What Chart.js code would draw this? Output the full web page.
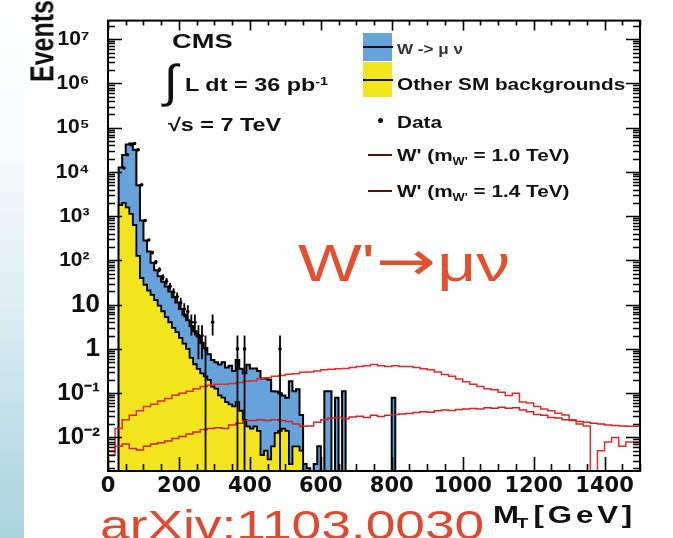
<!DOCTYPE html>
<html>
<head>
<meta charset="utf-8">
<title>W' → μν transverse mass</title>
<script src="https://cdn.jsdelivr.net/npm/chart.js@4.4.1/dist/chart.umd.min.js"></script>
<style>
  html, body { margin: 0; padding: 0; background: #fff; }
  #stage { position: relative; width: 673px; height: 538px; overflow: hidden; background: #fefefe; }
  #edge { position: absolute; left: 0; top: 0; width: 24px; height: 538px;
          background: linear-gradient(to bottom, #ffffff 0%, #f6fafb 28%, #dcedf2 58%, #bcdde6 82%, #a9d3de 100%); }
  #plot { position: absolute; left: 0; top: 0; }
  .t { position: absolute; white-space: nowrap; font-family: "Liberation Sans", Arial, sans-serif;
       font-weight: bold; color: #111; line-height: 1; transform-origin: 0 0; }
  .w13 { transform: scaleX(1.3); }
  .w12 { transform: scaleX(1.22); }
  .box { position: absolute; }
  .bar { position: absolute; height: 2px; background: #111; }
  sub.s { font-size: 62%; vertical-align: -0.35em; }
  sup.s { font-size: 62%; vertical-align: 0.55em; }
  .arrow { font-family: "DejaVu Sans", sans-serif; font-size: 55px; vertical-align: 0.02em; margin: 0 1px; }
</style>
</head>
<body>
<div id="stage">
  <div id="edge"></div>
  <canvas id="plot" width="673" height="538"></canvas>

  <!-- axis titles -->
  <div class="t" style="font-size:25px;left:26px;top:82px;transform:rotate(-90deg) scaleY(1.3);">Events</div>
  <div class="t w13" style="font-size:24px;left:493px;top:503px;">M<sub class="s" style="margin-left:-2px;">T</sub><span style="letter-spacing:3px;margin-left:4px;">[GeV]</span></div>

  <!-- experiment labels -->
  <div class="t w13" style="font-size:21px;left:172px;top:30px;">CMS</div>
  <div class="t" style="font-size:46px;font-weight:normal;left:164px;top:58px;transform:scaleX(1.1);">∫</div>
  <div class="t w13" style="font-size:18px;left:185px;top:76px;">L dt = 36 pb<sup class="s">-1</sup></div>
  <div class="t w13" style="font-size:18px;left:168px;top:116px;">√s = 7 TeV</div>

  <!-- legend -->
  <div class="box" style="left:363px;top:33px;width:29px;height:28px;background:#66a3db;"></div>
  <div class="bar" style="left:363px;top:46px;width:30px;"></div>
  <div class="t w12" style="font-size:14px;left:397px;top:42px;color:#333;">W -&gt; μ ν</div>
  <div class="box" style="left:363px;top:62px;width:29px;height:35px;background:#f3e51d;"></div>
  <div class="bar" style="left:363px;top:79px;width:30px;"></div>
  <div class="t w12" style="font-size:17px;left:397px;top:76px;">Other SM backgrounds</div>
  <div class="box" style="left:378px;top:118px;width:5px;height:5px;border-radius:50%;background:#111;"></div>
  <div class="t w12" style="font-size:17px;left:397px;top:114px;">Data</div>
  <div class="bar" style="left:368px;top:154px;width:24px;background:#4a1414;"></div>
  <div class="t w12" style="font-size:17px;left:397px;top:147px;">W' (m<sub class="s">W'</sub> = 1.0 TeV)</div>
  <div class="bar" style="left:368px;top:190px;width:24px;background:#4a1414;"></div>
  <div class="t w12" style="font-size:17px;left:397px;top:183px;">W' (m<sub class="s">W'</sub> = 1.4 TeV)</div>

  <!-- channel and reference -->
  <div class="t w13" style="font-size:52px;font-weight:normal;color:#e2502f;left:298px;top:234px;">W'<span class="arrow">→</span>μν</div>
  <div class="t w13" style="font-size:41px;font-weight:normal;color:#dc4a31;left:100px;top:505px;">arXiv:1103.0030</div>
</div>

<script>
// ---- binning (GeV) ----
const mcBinWidth = 10;      // background / data histograms
const signalBinWidth = 20;  // W' signal histograms

// ---- expected events per 10 GeV bin, starting at M_T = 0 ----
const otherSM = [0, 0, 0, 0, 1778, 1995, 1585, 1122, 631, 126,
  40, 28.2, 20.9, 16.6, 12.6, 9.5, 7.1, 5.25, 4.0, 3.0,
  2.4, 1.78, 1.32, 1.0, 0.63, 0.45, 0.355, 0.28, 0.24, 0.2,
  0.14, 0.126, 0.089, 0.079, 0.063, 0.056, 0.05, 0.063, 0.04, 0.025,
  0.0178, 0.0158, 0.0178, 0.0141, 0.004, 0.005, 0.0032, 0.0063, 0.0126, 0.0141,
  0.0158, 0.0141, 0.0025, 0.0063, 0.0063, 0.005, 0, 0, 0, 0,
  0, 0, 0, 0, 0, 0, 0, 0, 0, 0,
  0, 0, 0, 0, 0, 0, 0, 0, 0, 0,
  0, 0, 0, 0];

const wMuNu = [0, 0, 0, 0, 10800, 22000, 40100, 42500, 31000, 4890,
  754, 254, 137.6, 72.5, 47.7, 34.2, 26.0, 20.5, 15.95, 11.8,
  8.8, 6.16, 4.71, 3.47, 2.68, 2.06, 1.55, 1.10, 0.81, 0.56,
  0.42, 0.374, 0.358, 0.42, 0.317, 0.36, 0.266, 0.5, 0.315, 0.257,
  0.42, 0.347, 0.345, 0.302, 0.21, 0.209, 0.197, 0.104, 0.097, 0.086,
  0.073, 0.065, 0.184, 0.104, 0.117, 0.027, 0.0025, 0.002, 0, 0.0025,
  0.0063, 0, 0.11, 0.11, 0, 0.079, 0, 0.11, 0, 0,
  0, 0, 0, 0, 0, 0, 0, 0, 0, 0,
  0, 0.079, 0, 0];

// ---- observed events: bin index (10 GeV bins) and count ----
const dataBin = [4, 5, 6, 7, 8, 9, 10, 11, 12, 13, 14, 15, 16, 17, 18, 19, 20,
  21, 22, 23, 24, 25, 26, 27, 29, 36, 38, 48];
const dataCount = [12300, 24500, 41000, 44000, 31500, 5100, 800, 290, 150, 92, 62, 42, 34, 26, 19, 15, 11,
  8, 7, 4, 4, 2, 2, 1, 4, 1, 1, 1];

// ---- W' signal expectations per 20 GeV bin, starting at M_T = 0 ----
const wPrime10 = [0, 0.005, 0.0158, 0.0251, 0.0316, 0.0398, 0.0501, 0.0562, 0.0661, 0.0759,
  0.0891, 0.100, 0.110, 0.126, 0.141, 0.151, 0.158, 0.158, 0.166, 0.174,
  0.186, 0.191, 0.214, 0.224, 0.240, 0.251, 0.269, 0.275, 0.295, 0.302,
  0.316, 0.339, 0.347, 0.355, 0.363, 0.380, 0.398, 0.417, 0.447, 0.417,
  0.398, 0.417, 0.398, 0.398, 0.380, 0.355, 0.339, 0.302, 0.263, 0.240,
  0.209, 0.182, 0.158, 0.141, 0.126, 0.120, 0.105, 0.089, 0.100, 0.063,
  0.060, 0.050, 0.044, 0.040, 0.035, 0.032, 0.025, 0.020, 0.018, 0,
  0.005, 0.0079, 0.010, 0.0063, 0.0079];

const wPrime14 = [0, 0.0040, 0.0063, 0.0071, 0.0056, 0.0052, 0.0063, 0.0071, 0.0076, 0.0083,
  0.0095, 0.0105, 0.0120, 0.0132, 0.0151, 0.0158, 0.0166, 0.0158, 0.0191, 0.0209,
  0.0240, 0.0240, 0.0251, 0.0240, 0.0251, 0.0240, 0.0229, 0.0200, 0.0178, 0.0182,
  0.0219, 0.0251, 0.0275, 0.0282, 0.0263, 0.0288, 0.0302, 0.0282, 0.0316, 0.0295,
  0.0316, 0.0331, 0.0339, 0.0347, 0.0363, 0.0380, 0.0372, 0.0398, 0.0417, 0.0407,
  0.0427, 0.0437, 0.0447, 0.0437, 0.0468, 0.0457, 0.0479, 0.0457, 0.0468, 0.0417,
  0.0380, 0.0331, 0.0316, 0.0282, 0.0275, 0.0251, 0.0240, 0.0229, 0.0219, 0.0209,
  0.0200, 0.0191, 0.0186, 0.0182, 0.0178];

// ---- axes ----
const xRange = [0, 1500];
const yRange = [0.00174, 2.63e7];
const xTickLabels = [0, 200, 400, 600, 800, 1000, 1200, 1400];
const yDecades = [-2, -1, 0, 1, 2, 3, 4, 5, 6, 7];

// value used for empty bins so the outline drops below the frame
const EMPTY = 1e-5;

function histogramPoints(values, width) {
  const pts = values.map((v, i) => ({ x: i * width, y: v > 0 ? v : EMPTY }));
  const last = values[values.length - 1];
  pts.push({ x: values.length * width, y: last > 0 ? last : EMPTY });
  pts.push({ x: values.length * width, y: EMPTY });
  return pts;
}

const stacked = wMuNu.map((w, i) => w + otherSM[i]);

const dataPoints = dataBin.map((b, i) => ({ x: (b + 0.5) * mcBinWidth, y: dataCount[i] }));
const errorSegments = [];
dataBin.forEach((b, i) => {
  const n = dataCount[i], s = Math.sqrt(n), x = (b + 0.5) * mcBinWidth;
  errorSegments.push({ x, y: n - s > 0 ? n - s : EMPTY }, { x, y: n + s }, { x, y: null });
});

const supDigits = { '-': '⁻', '0': '⁰', '1': '¹', '2': '²', '3': '³', '4': '⁴', '5': '⁵', '6': '⁶', '7': '⁷', '8': '⁸', '9': '⁹' };
function decadeLabel(e) {
  if (e === 0) return '1';
  if (e === 1) return '10';
  const label = '10' + String(e).split('').map(c => supDigits[c]).join('');
  return e > 1 ? label + '\u2002' : label;
}
function decadeOf(v) {
  const l = Math.log10(v), r = Math.round(l);
  return Math.abs(l - r) < 1e-6 ? r : null;
}

// inward ticks and frame, drawn in the style of the analysis plots
const frameTicks = {
  id: 'frameTicks',
  afterDatasetsDraw(chart) {
    const { ctx, chartArea: a, scales: { x, y } } = chart;
    ctx.save();
    ctx.strokeStyle = '#000';
    ctx.lineWidth = 1.6;
    ctx.beginPath();
    for (let v = xRange[0]; v <= xRange[1]; v += 50) {
      const px = Math.round(x.getPixelForValue(v)) + 0.5;
      const major = xTickLabels.includes(v);
      ctx.moveTo(px, a.bottom); ctx.lineTo(px, a.bottom - (major ? 14 : 7));
      ctx.moveTo(px, a.top); ctx.lineTo(px, a.top + (major ? 10 : 5));
    }
    for (let e = -3; e <= 7; e++) {
      for (let m = 1; m <= 9; m++) {
        const v = m * Math.pow(10, e);
        if (v < y.min || v > y.max) continue;
        const py = Math.round(y.getPixelForValue(v)) + 0.5;
        const len = m === 1 ? 14 : 7;
        ctx.moveTo(a.left, py); ctx.lineTo(a.left + len, py);
        ctx.moveTo(a.right, py); ctx.lineTo(a.right - len, py);
      }
    }
    ctx.stroke();
    ctx.lineWidth = 2;
    ctx.strokeRect(a.left, a.top, a.right - a.left, a.bottom - a.top);
    ctx.restore();
  }
};

new Chart(document.getElementById('plot'), {
  type: 'line',
  data: {
    datasets: [
      { label: 'Data', data: dataPoints, showLine: false, pointRadius: 1.8,
        pointBackgroundColor: '#000', pointBorderWidth: 0, order: 0 },
      { label: 'Data errors', data: errorSegments, borderColor: '#000', borderWidth: 1.8,
        pointRadius: 0, spanGaps: false, order: 1 },
      { label: "W' (1.0 TeV)", data: histogramPoints(wPrime10, signalBinWidth), stepped: 'after',
        borderColor: '#de2c2c', borderWidth: 1.5, pointRadius: 0, fill: false, order: 2 },
      { label: "W' (1.4 TeV)", data: histogramPoints(wPrime14, signalBinWidth), stepped: 'after',
        borderColor: '#c8262b', borderWidth: 1.5, pointRadius: 0, fill: false, order: 3 },
      { label: 'Other SM backgrounds', data: histogramPoints(otherSM, mcBinWidth), stepped: 'after',
        borderColor: '#000', borderWidth: 1.8, backgroundColor: '#f3e51d', pointRadius: 0,
        fill: 'start', order: 4 },
      { label: 'W -> μν', data: histogramPoints(stacked, mcBinWidth), stepped: 'after',
        borderColor: '#000', borderWidth: 2, backgroundColor: '#66a3db', pointRadius: 0,
        fill: 'start', order: 5 }
    ]
  },
  options: {
    responsive: false,
    animation: false,
    layout: { padding: { top: 13, right: 33, left: 0, bottom: 0 } },
    plugins: { legend: { display: false }, tooltip: { enabled: false } },
    scales: {
      x: {
        type: 'linear', min: xRange[0], max: xRange[1], offset: false,
        grid: { display: false, drawTicks: false }, border: { display: false },
        ticks: {
          stepSize: 200, includeBounds: false, autoSkip: false, maxRotation: 0, padding: 3, color: '#111',
          font: { family: 'DejaVu Sans', weight: 'bold', size: 21 },
          callback: v => xTickLabels.includes(v) ? String(v) : ''
        },
        afterFit: s => { s.height = 67; }
      },
      y: {
        type: 'logarithmic', min: yRange[0], max: yRange[1],
        grid: { display: false, drawTicks: false }, border: { display: false },
        ticks: {
          autoSkip: false, padding: 8, color: '#111',
          font: ctx => {
            const e = ctx.tick ? decadeOf(ctx.tick.value) : null;
            const size = (e === 0 || e === 1) ? 26 : (e !== null && e < 0 ? 24 : 21);
            return { family: 'Liberation Sans', weight: 'bold', size };
          },
          callback: v => {
            const e = decadeOf(v);
            return (e !== null && yDecades.includes(e)) ? decadeLabel(e) : '';
          }
        },
        afterFit: s => { s.width = 108; }
      }
    }
  },
  plugins: [frameTicks]
});
</script>
</body>
</html>
